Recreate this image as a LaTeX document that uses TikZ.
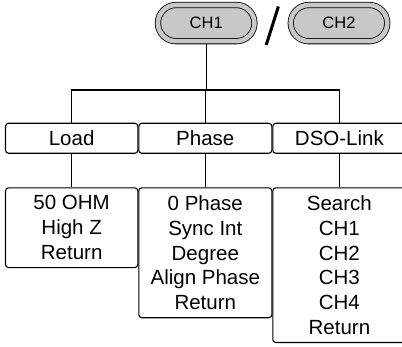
\documentclass[tikz,border=0pt]{standalone}
\usepackage{fontspec}
\setmainfont{Liberation Sans}
\definecolor{btngray}{RGB}{200,200,200}
\tikzset{
  conn/.style={line width=1.2pt},
  hdr/.style={draw, line width=1.1pt, rounded corners=3pt, minimum height=30pt, inner sep=0pt, font=\fontsize{20.5}{24.8}\selectfont},
  sub/.style={draw, line width=1.1pt, rounded corners=3pt, anchor=north, inner xsep=0pt, inner ysep=7.8pt, align=center, font=\fontsize{20.5}{24.8}\selectfont},
  btn/.style={draw, line width=0.8pt, double=btngray, double distance=4.6pt, fill=btngray, rounded corners=18pt, minimum width=96.5pt, minimum height=36.2pt, inner sep=0pt, font=\fontsize{16.5}{20}\selectfont}
}
\begin{document}
\begin{tikzpicture}[x=1pt,y=-1pt]
\useasboundingbox (0,0) rectangle (402,347);
% buttons
\node[btn] (ch1) at (206.2,23.1) {CH1};
\node[btn] (ch2) at (339,23.1) {CH2};
\draw[line width=3pt] (266.2,45) -- (278.4,6.5);
% headers
\node[hdr, minimum width=132.3pt] (load) at (71.65,138.3) {Load};
\node[hdr, minimum width=133pt] (phase) at (205.3,138.3) {Phase};
\node[hdr, minimum width=133.2pt] (dso) at (339.4,138.3) {DSO-Link};
% sub menus
\node[sub, minimum width=132.3pt] (loadm) at (71.65,187.3) {50 OHM\\High Z\\Return};
\node[sub, minimum width=133pt] (phasem) at (205.3,187.3) {0 Phase\\Sync Int\\Degree\\Align Phase\\Return};
\node[sub, minimum width=133.2pt] (dsom) at (339.4,187.3) {Search\\CH1\\CH2\\CH3\\CH4\\Return};
% connectors
\coordinate (bus) at (206.2,90);
\draw[conn] ([yshift=-2.6pt]ch1.south) -- (bus);
\draw[conn] (load.north) -- (load.north |- bus) -- (dso.north |- bus) -- (dso.north);
\draw[conn] (phase.north) -- (phase.north |- bus);
\draw[conn] (load.south) -- (loadm.north);
\draw[conn] (phase.south) -- (phasem.north);
\draw[conn] (dso.south) -- (dsom.north);
\end{tikzpicture}
\end{document}
